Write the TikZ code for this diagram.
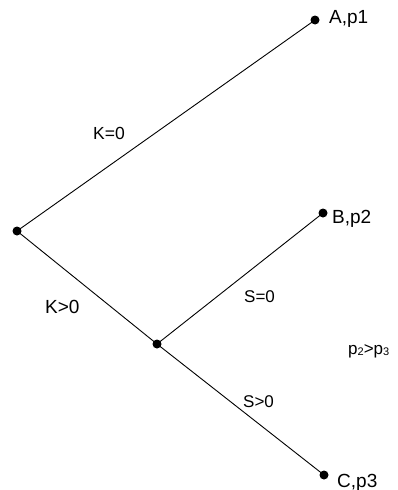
\documentclass[tikz,border=0pt]{standalone}
\usepackage{fontspec}
\setmainfont{Liberation Sans}
\begin{document}
\begin{tikzpicture}[x=1pt,y=-1pt,
  dot/.style={circle,fill=black,inner sep=0pt,minimum size=9pt},
  edge/.style={draw=black,line width=0.9pt},
  big/.style={anchor=base west,inner sep=0pt,font=\fontsize{19}{22}\selectfont},
  small/.style={anchor=base west,inner sep=0pt,font=\fontsize{17}{20}\selectfont}]
\useasboundingbox (0,0) rectangle (397,490);
\node[dot] (r) at (17,231) {};
\node[dot] (a) at (315,20) {};
\node[dot] (m) at (157,344) {};
\node[dot] (b) at (323,213) {};
\node[dot] (c) at (324,475) {};
\draw[edge] (r.center) -- (a.center);
\draw[edge] (r.center) -- (m.center);
\draw[edge] (m.center) -- (b.center);
\draw[edge] (m.center) -- (c.center);
\node[big] (la) at (329,23) {A,p1};
\node[big] (lb) at (332,223) {B,p2};
\node[big] (lc) at (337,487) {C,p3};
\node[small,font=\fontsize{17.5}{20}\selectfont] (k0) at (93,139) {K=0};
\node[big] (k1) at (45,313) {K>0};
\node[small] (s0) at (244,302) {S=0};
\node[small] (s1) at (243,407) {S>0};
\node[small] (pp) at (348,354) {p{\fontsize{11}{11}\selectfont\raisebox{-1pt}{2}}>p{\fontsize{11}{11}\selectfont\raisebox{-1pt}{3}}};
\end{tikzpicture}
\end{document}
